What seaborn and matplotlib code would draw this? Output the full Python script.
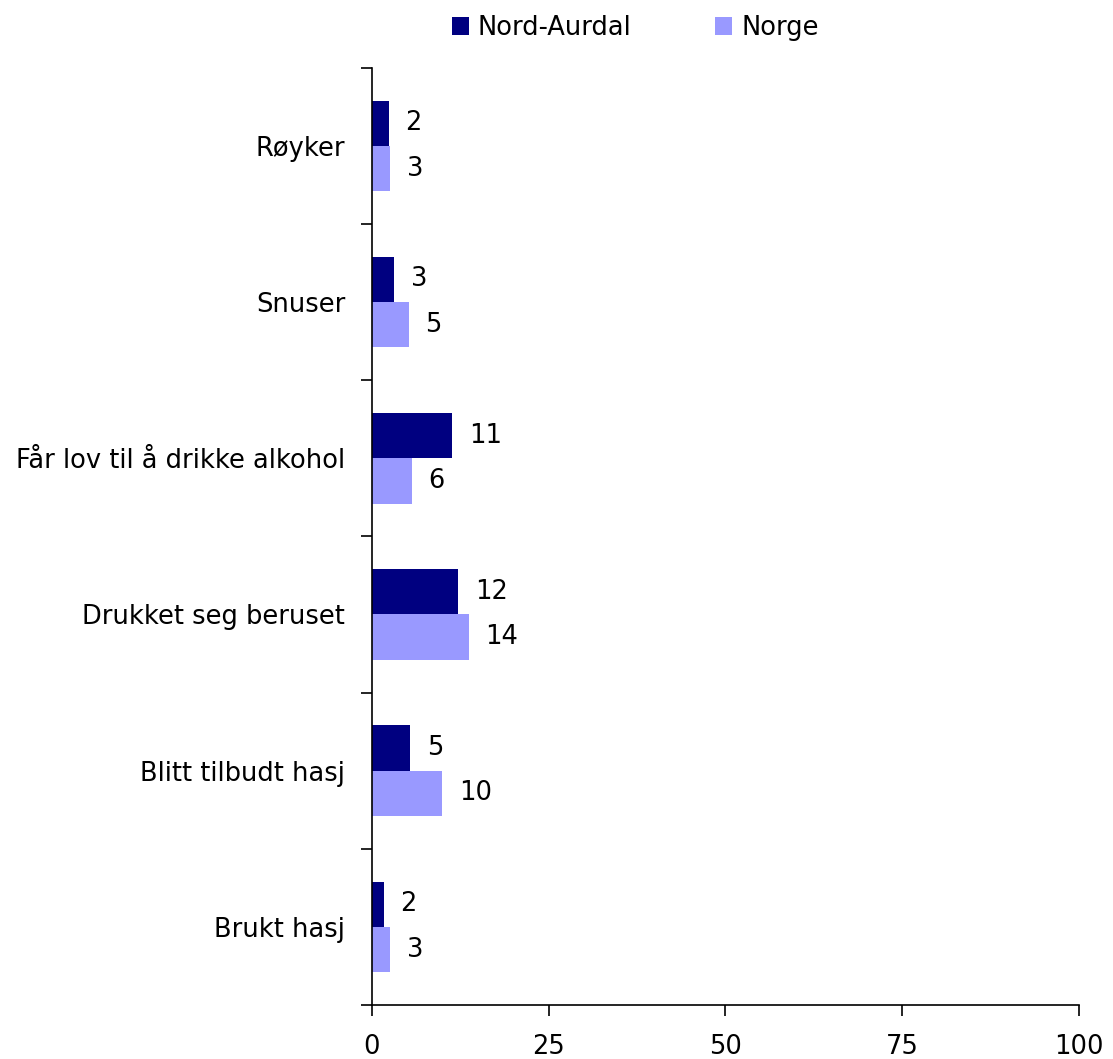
import matplotlib
matplotlib.use("Agg")
import matplotlib.pyplot as plt
import seaborn as sns
import pandas as pd
import numpy as np

categories = ["Røyker", "Snuser", "Får lov til å drikke alkohol",
              "Drukket seg beruset", "Blitt tilbudt hasj", "Brukt hasj"]
series_names = ["Nord-Aurdal", "Norge"]
nord_aurdal = [2.4, 3.2, 11.4, 12.2, 5.4, 1.7]
norge = [2.6, 5.2, 5.7, 13.7, 9.95, 2.6]
colors = ["#000080", "#9999FF"]
x_ticks = [0, 25, 50, 75, 100]

df = pd.DataFrame({
    "Kategori": categories * 2,
    "Verdi": nord_aurdal + norge,
    "Serie": [series_names[0]] * len(categories) + [series_names[1]] * len(categories),
})

sns.set_style("white")
plt.rcParams["font.family"] = ["DejaVu Sans"]
plt.rcParams["text.color"] = "black"
plt.rcParams["xtick.color"] = "black"
plt.rcParams["ytick.color"] = "black"

fig = plt.figure(figsize=(11.13, 10.59), dpi=100)
ax = fig.add_axes([0.334, 0.051, 0.6355, 0.885])

sns.barplot(data=df, y="Kategori", x="Verdi", hue="Serie", order=categories,
            hue_order=series_names, palette=colors, orient="h", width=0.58,
            saturation=1, ax=ax, legend=True, linewidth=0, edgecolor="none")

fs = 18.5
for container in ax.containers:
    for patch in container.patches:
        w = patch.get_width()
        y = patch.get_y() + patch.get_height() / 2
        ax.annotate(f"{w:.0f}", xy=(w, y), xytext=(12, 0), textcoords="offset points",
                    ha="left", va="center", fontsize=fs, color="black")

ax.set_xlim(0, 100)
ax.set_ylim(len(categories) - 0.5, -0.5)
ax.set_xticks(x_ticks)
ax.set_xticklabels([str(t) for t in x_ticks], fontsize=fs)
ax.set_yticks(range(len(categories)))
ax.set_yticklabels(categories, fontsize=fs)
ax.set_yticks(np.arange(-0.5, len(categories), 1.0), minor=True)
ax.tick_params(axis="y", which="major", length=0, pad=19)
ax.tick_params(axis="y", which="minor", length=8, width=1.2, direction="out", left=True)
ax.tick_params(axis="x", which="major", length=8, width=1.2, direction="out", bottom=True, pad=13)
ax.set_xlabel("")
ax.set_ylabel("")
for s in ["top", "right"]:
    ax.spines[s].set_visible(False)
for s in ["left", "bottom"]:
    ax.spines[s].set_linewidth(1.2)
    ax.spines[s].set_color("black")

handles, labels = ax.get_legend_handles_labels()
ax.get_legend().remove()
fig.legend(handles, labels, loc="upper left", bbox_to_anchor=(452 / 1113, 1 - 15 / 1059),
           bbox_transform=fig.transFigure, ncol=2, frameon=False, borderpad=0,
           borderaxespad=0, fontsize=fs, handlelength=0.65, handleheight=0.65,
           handletextpad=0.35, columnspacing=3.27)

fig.savefig("out.png", dpi=100)
